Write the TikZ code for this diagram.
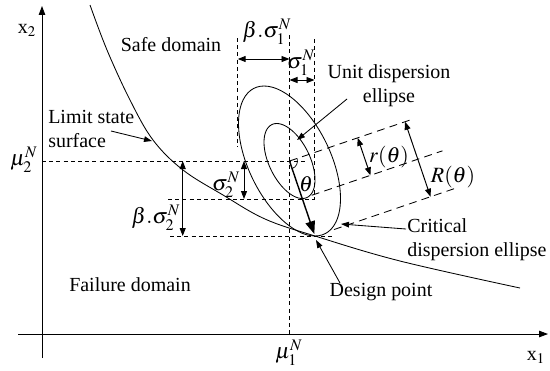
\documentclass[tikz,border=0pt]{standalone}
\usepackage{mathptmx}
\usepackage{fontspec}
\setmainfont{Liberation Serif}
\usepackage{tikz}
\usetikzlibrary{positioning, arrows.meta, calc}

\begin{document}
\begin{tikzpicture}[
    x=0.025cm, y=0.025cm,
    lbl/.style={font=\fontsize{14.2}{17}\selectfont, inner sep=0pt},
    mlbl/.style={font=\fontsize{15.5}{18}\selectfont, inner sep=0pt},
    guide/.style={dash pattern=on 1mm off 0.8mm, line width=0.5pt},
    proj/.style={dash pattern=on 2mm off 1.3mm, line width=0.6pt},
    axis/.style={-{Triangle[length=2.2mm, width=1.6mm]}, line width=0.6pt},
    dim/.style={{Triangle[length=2mm, width=1.5mm]}-{Triangle[length=2mm, width=1.5mm]}, line width=0.7pt},
    lead/.style={-{Triangle[length=2mm, width=1.4mm]}, line width=0.6pt},
    dir/.style={-{Triangle[length=3.2mm, width=2.4mm]}, line width=1pt, shorten >=1.5pt},
    curve/.style={line width=0.6pt}
]
\useasboundingbox (0,0) rectangle (550,-370);

% axes
\draw[axis] (18,-334) -- (548,-334);
\draw[axis] (42,-358) -- (42,-6);
\node[lbl] (xtwo) at (27,-30) {x$_2$};
\node[lbl] (xone) at (536,-357) {x$_1$};
\node[mlbl] (mutwo) at (24,-160) {$\mu_2^N$};
\node[mlbl] (muone) at (289,-353) {$\mu_1^N$};

% mean point, inner point, design point
\coordinate (C) at (289.5,-161);
\coordinate (I) at (302.25,-198.5);
\coordinate (D) at (315,-236);

% guide lines
\draw[guide] (289.5,-35) -- (289.5,-334);
\draw[guide] (237.7,-38) -- (237.7,-147);
\draw[guide] (314.5,-39) -- (314.5,-199);
\draw[guide] (42,-161) -- (306,-161);
\draw[guide] (168,-199) -- (314.5,-199);
\draw[guide] (170,-236) -- (335,-236);

% dispersion ellipses (unit and critical)
\foreach \k in {1,2}
  \draw[curve] plot[domain=0:355, samples=72, smooth cycle]
    ({289.5+\k*25.5*cos(\x)}, {-161+\k*37.5*(-0.5*cos(\x)+0.866*sin(\x))});

% limit state surface
\draw[curve] plot[smooth, tension=0.6] coordinates {(90,-5) (107,-50) (130,-100) (153,-140) (183,-170) (223,-195) (265,-219) (315,-236) (400,-261) (520,-288)};

% projections perpendicular to direction theta
\draw[proj] (C) -- ($(C)!3.3cm!90:(D)$);
\draw[proj] ($(I)!0.25cm!90:(D)$) -- ($(I)!3.7cm!90:(D)$);
\draw[proj] ($(D)!0.5cm!-90:(C)$) -- ($(D)!3.75cm!-90:(C)$);

\draw[dir] (C) -- (D);
\draw[line width=0.5pt] ([shift={(-71.2:0.2cm)}]C) arc[start angle=-71.2, end angle=18.8, radius=0.2cm];
\node[mlbl] (thlab) at (306,-184) {$\theta$};

\coordinate (ra) at ($(C)!1.8cm!90:(D)$);
\coordinate (rb) at ($(I)!1.8cm!90:(D)$);
\coordinate (Ra) at ($(C)!3.05cm!90:(D)$);
\coordinate (Rb) at ($(D)!3.05cm!-90:(C)$);
\draw[dim] (ra) -- (rb);
\draw[dim] (Ra) -- (Rb);
\node[mlbl] (rlab) at (389,-157) {$r(\theta)$};
\node[mlbl] (Rlab) at (453,-177) {$R(\theta)$};

% sigma dimensions
\coordinate (bsl) at (237.7,-59);
\coordinate (bsr) at (289.5,-59);
\coordinate (sl) at (289.5,-80);
\coordinate (sr) at (314.5,-80);
\coordinate (st) at (244,-161);
\coordinate (sb) at (244,-199);
\coordinate (bst) at (182.7,-161);
\coordinate (bsb) at (182.7,-236);
\draw[dim] (bsl) -- (bsr);
\draw[dim] (sl) -- (sr);
\draw[dim] (st) -- (sb);
\draw[dim] (bst) -- (bsb);
\node[mlbl] (bsonelab) at (267,-32) {$\beta.\sigma_1^N$};
\node[mlbl] (sonelab) at (301,-63) {$\sigma_1^N$};
\node[mlbl] (stwolab) at (226,-185) {$\sigma_2^N$};
\node[mlbl] (bstwolab) at (156,-218) {$\beta.\sigma_2^N$};

% texts and leaders
\node[lbl] (safe) at (171,-45) {Safe domain};
\node[lbl] (fail) at (130,-285) {Failure domain};
\node[lbl, align=left, anchor=west] (limit) at (48,-129) {Limit state\\surface};
\node[lbl, align=center] (unit) at (389,-86) {Unit dispersion\\ellipse};
\node[lbl, align=left, anchor=west] (crit) at (407,-240) {Critical\\dispersion ellipse};
\node[lbl] (design) at (381,-292) {Design point};

\coordinate (limfoot) at (111,-131);
\coordinate (limtip) at (152,-141);
\coordinate (unitfoot) at (347,-99);
\coordinate (unittip) at (297,-140);
\coordinate (critfoot) at (406,-229);
\coordinate (crittip) at (341,-224);
\coordinate (desfoot) at (340,-283);
\coordinate (destip) at (316,-240);
\draw[lead] (limfoot) -- (limtip);
\draw[lead] (unitfoot) -- (unittip);
\draw[lead] (critfoot) -- (crittip);
\draw[lead] (desfoot) -- (destip);
\end{tikzpicture}
\end{document}
